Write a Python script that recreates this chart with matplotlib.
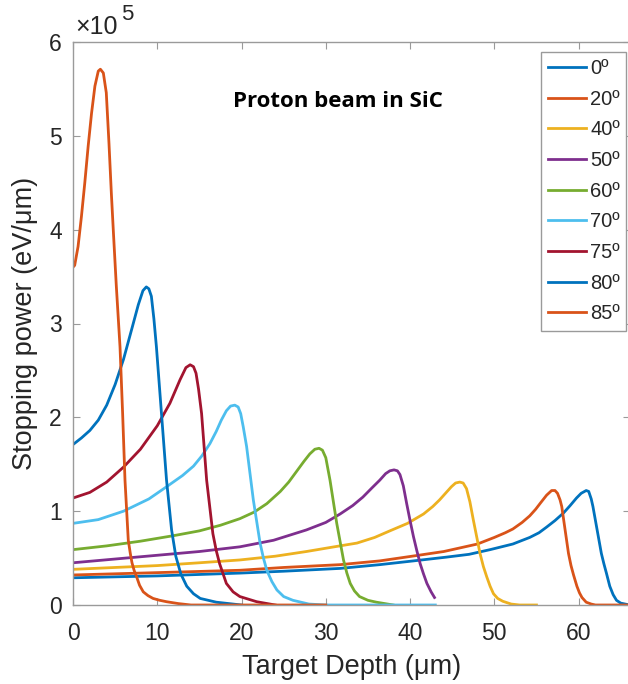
import matplotlib
matplotlib.use("Agg")
from matplotlib import pyplot as plt

# angles of incidence and the curves (y in units of 1e5 eV/um)
labels = ["0º", "20º", "40º", "50º", "60º", "70º", "75º", "80º", "85º"]
colors = ["#0072BD", "#D95319", "#EDB120", "#7E2F8E", "#77AC30",
          "#4DBEEE", "#A2142F", "#0072BD", "#D95319"]

depth_0 = [0, 10, 19.8, 25, 31.7, 36.4, 40.4, 44.3, 47, 49.5, 52.2, 54.2, 55.3, 56.2, 57.2, 58.2, 59.0,
           59.75, 60.3, 60.9, 61.2, 61.5, 61.7, 62.2, 62.7, 63.0, 63.3, 63.7, 64.1, 64.5, 65.0, 65.8]
sp_0 = [0.29, 0.31, 0.34, 0.36, 0.39, 0.43, 0.47, 0.51, 0.54, 0.59, 0.65, 0.72, 0.77, 0.83, 0.90, 0.98, 1.06,
        1.14, 1.19, 1.22, 1.21, 1.13, 1.05, 0.80, 0.55, 0.44, 0.34, 0.20, 0.11, 0.05, 0.02, 0.005]

depth_20 = [0, 10, 19.8, 25, 31.7, 36.4, 41, 44, 46, 48, 50, 51.3, 52.2, 53.3, 54.2, 54.9, 55.5, 56.2,
            56.8, 57.2, 57.5, 57.8, 58.0, 58.4, 58.8, 59.1, 59.4, 59.8, 60.1, 60.4, 60.9, 61.5, 62, 66]
sp_20 = [0.32, 0.345, 0.37, 0.40, 0.43, 0.47, 0.53, 0.57, 0.61, 0.65, 0.72, 0.77, 0.81, 0.88, 0.95, 1.02,
         1.09, 1.17, 1.22, 1.22, 1.19, 1.12, 1.05, 0.80, 0.55, 0.42, 0.32, 0.20, 0.13, 0.08, 0.03, 0.01, 0.0, 0.0]

depth_40 = [0, 5, 10, 15, 19.8, 24, 27.7, 31, 33.7, 35.8, 37.6, 39.7, 41.6, 42.7, 43.5, 44.3, 44.9, 45.4,
            45.9, 46.3, 46.7, 47.1, 47.5, 48.3, 48.7, 49.1, 49.5, 49.9, 50.4, 51, 52, 53, 55]
sp_40 = [0.38, 0.40, 0.42, 0.45, 0.48, 0.52, 0.57, 0.62, 0.66, 0.72, 0.79, 0.87, 0.97, 1.05, 1.12, 1.20,
         1.26, 1.30, 1.31, 1.30, 1.24, 1.10, 0.91, 0.55, 0.41, 0.30, 0.20, 0.12, 0.07, 0.04, 0.01, 0.0, 0.0]

depth_50 = [0, 5, 10, 15, 19.8, 23.8, 27.7, 30, 31.7, 33.2, 34.4, 35.5, 36.4, 37.1, 37.6, 38.1, 38.5,
            38.8, 39.2, 39.6, 40.0, 40.4, 40.8, 41.2, 41.6, 42.0, 42.5, 42.9]
sp_50 = [0.45, 0.49, 0.53, 0.57, 0.62, 0.69, 0.80, 0.88, 0.97, 1.06, 1.15, 1.25, 1.33, 1.40, 1.43, 1.44,
         1.43, 1.39, 1.27, 1.08, 0.90, 0.73, 0.58, 0.44, 0.33, 0.23, 0.14, 0.08]

depth_60 = [0, 4, 8, 12, 15, 17.5, 19.8, 21.5, 23, 24.6, 25.6, 26.5, 27.4, 28.1, 28.7, 29.2, 29.6, 30.0,
            30.5, 31.3, 32.1, 32.5, 32.9, 33.4, 34.0, 35, 36, 38]
sp_60 = [0.59, 0.63, 0.68, 0.74, 0.79, 0.85, 0.92, 0.99, 1.08, 1.21, 1.31, 1.42, 1.53, 1.61, 1.66, 1.67,
         1.65, 1.57, 1.33, 0.87, 0.48, 0.34, 0.23, 0.15, 0.09, 0.05, 0.03, 0.0]

depth_70 = [0, 3, 6, 9, 11.1, 13, 14.3, 15.3, 16.25, 17.0, 17.6, 18.2, 18.7, 19.2, 19.6, 19.9, 20.2, 20.6,
            21.4, 22.2, 22.6, 23.0, 23.6, 24.2, 25, 26.1, 28, 30, 43]
sp_70 = [0.87, 0.91, 1.00, 1.13, 1.26, 1.38, 1.48, 1.59, 1.72, 1.85, 1.97, 2.07, 2.12, 2.13, 2.11, 2.04,
         1.90, 1.69, 1.12, 0.66, 0.50, 0.37, 0.25, 0.16, 0.09, 0.05, 0.01, 0.0, 0.0]

depth_75 = [0, 2, 4, 6, 8, 10, 11.5, 12.7, 13.4, 13.9, 14.3, 14.6, 14.9, 15.26, 15.86, 16.6, 17.0, 17.4,
            18.2, 19, 19.8, 21.8, 24]
sp_75 = [1.14, 1.20, 1.31, 1.47, 1.66, 1.91, 2.15, 2.40, 2.53, 2.56, 2.54, 2.47, 2.30, 2.04, 1.33, 0.76,
         0.58, 0.44, 0.23, 0.14, 0.09, 0.035, 0.0]

depth_80 = [0, 1, 2, 3, 4, 5, 6, 7, 7.75, 8.3, 8.7, 9.0, 9.3, 9.6, 9.9, 10.5, 11.1, 11.7, 12.2, 12.8,
            13.5, 14.3, 15.1, 17, 20]
sp_80 = [1.71, 1.78, 1.86, 1.97, 2.13, 2.35, 2.62, 2.95, 3.20, 3.35, 3.39, 3.37, 3.29, 3.05, 2.75, 2.04,
         1.33, 0.80, 0.52, 0.33, 0.20, 0.12, 0.07, 0.03, 0.0]

depth_85 = [0, 0.2, 0.6, 1.0, 1.4, 1.8, 2.2, 2.6, 3.0, 3.25, 3.6, 3.95, 4.27, 4.55, 4.82, 5.14, 5.58,
            5.89, 6.17, 6.56, 6.8, 7.0, 7.25, 7.55, 7.9, 8.34, 8.9, 9.5, 10.3, 11.1, 12.5, 14, 30]
sp_85 = [3.60, 3.62, 3.82, 4.14, 4.50, 4.89, 5.24, 5.53, 5.69, 5.71, 5.67, 5.46, 4.92, 4.39, 3.93, 3.40,
         2.75, 2.04, 1.33, 0.69, 0.55, 0.45, 0.37, 0.30, 0.21, 0.14, 0.10, 0.07, 0.05, 0.035, 0.015, 0.0, 0.0]

depths = [depth_0, depth_20, depth_40, depth_50, depth_60, depth_70, depth_75, depth_80, depth_85]
powers = [sp_0, sp_20, sp_40, sp_50, sp_60, sp_70, sp_75, sp_80, sp_85]


def main():
  plt.rcParams['font.family'] = ['Liberation Sans', 'DejaVu Sans']
  fig = plt.figure(figsize=(6.28, 6.84), dpi=100)
  # axes box in pixels: left 73, right ~630, top 42, bottom 605
  ax = fig.add_axes([73 / 628, 1 - 605 / 684, 557 / 628, 563 / 684])

  for x, y, c, lab in zip(depths, powers, colors, labels):
    ax.plot(x, y, color=c, lw=2.0, label=lab, solid_joinstyle='round')

  ax.set_xlim(0, 66.1)
  ax.set_ylim(0, 6)
  ax.set_xticks([0, 10, 20, 30, 40, 50, 60])
  ax.set_yticks([0, 1, 2, 3, 4, 5, 6])
  ax.tick_params(direction='in', length=5, width=0.8, colors='#9a9a9a',
                 labelcolor='#262626', labelsize=16.5, top=True, right=True)
  ax.tick_params(axis='x', pad=12)
  ax.tick_params(axis='y', pad=8)
  for s in ax.spines.values():
    s.set_color('#9a9a9a')
    s.set_linewidth(1.0)

  ax.set_xlabel("Target Depth (μm)", fontsize=19.5, color='#262626', labelpad=7)
  ax.set_ylabel("Stopping power (eV/μm)", fontsize=19.5, color='#262626', labelpad=8)

  fig.text(75 / 628, 1 - 34 / 684, "×10", fontsize=18, color='#262626',
           va='baseline', ha='left')
  fig.text(121 / 628, 1 - 20 / 684, "5", fontsize=16, color='#262626',
           va='baseline', ha='left')

  ax.text(19.0, 5.37, "Proton beam in SiC", fontsize=16, fontweight='bold',
          family='Open Sans', va='center', ha='left')

  leg = ax.legend(loc='upper left', bbox_to_anchor=(541 / 628, 1 - 338 / 684, 85 / 628, 286 / 684),
                  bbox_transform=fig.transFigure, mode='expand', fontsize=14.5,
                  handlelength=1.9, handletextpad=0.2, labelspacing=0.58, borderpad=0.35,
                  borderaxespad=0, fancybox=False, framealpha=1)
  leg.get_frame().set_edgecolor('#9a9a9a')
  leg.get_frame().set_linewidth(1.0)
  for t in leg.get_texts():
    t.set_color('#262626')

  fig.savefig("out.png", dpi=100)


if __name__ == "__main__":
  main()
